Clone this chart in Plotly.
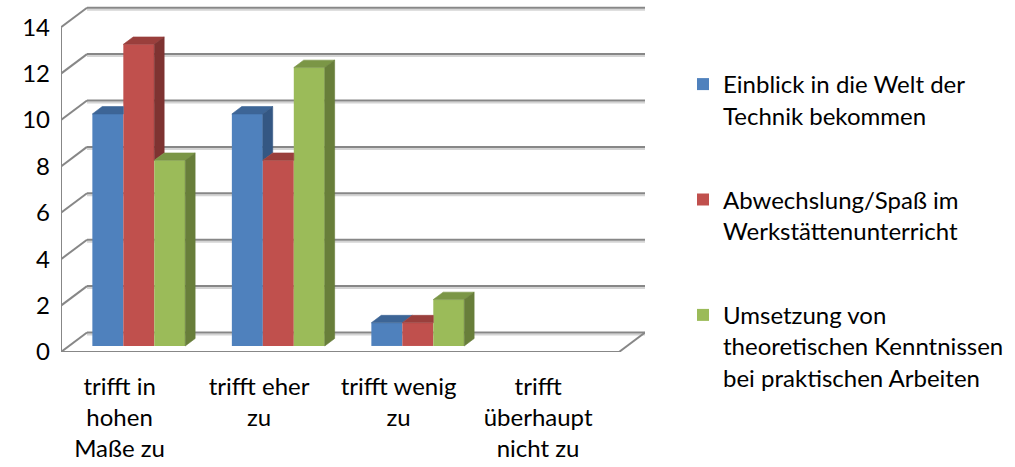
import plotly.graph_objects as go

# ---------------- data ----------------
categories = [
    "trifft in<br>hohen<br>Maße zu",
    "trifft eher<br>zu",
    "trifft wenig<br>zu",
    "trifft<br>überhaupt<br>nicht zu",
]
series_names = [
    "Einblick in die Welt der<br>Technik bekommen",
    "Abwechslung/Spaß im<br>Werkstättenunterricht",
    "Umsetzung von<br>theoretischen Kenntnissen<br>bei praktischen Arbeiten",
]
einblick = [10, 10, 1, 0]
abwechslung = [13, 8, 1, 0]
umsetzung = [8, 12, 2, 0]
y_ticks = [0, 2, 4, 6, 8, 10, 12, 14]

# ---------------- styles ----------------
front_colors = ["#4F81BD", "#C0504D", "#9BBB59"]
top_colors = ["#3D6596", "#9A3F3C", "#7B9646"]
side_colors = ["#345783", "#7E3331", "#687E3A"]
FONT = "Lato"
FS = 24

# ---------------- pseudo-3D geometry (axis units) ----------------
PXX = 139.5          # px per category
PXY = 23.2           # px per value unit
WDX = 26 / PXX       # wall depth, x
WDY = 19.5 / PXY     # wall depth, y
T0 = 0.31            # depth position of the bar fronts (0 = front, 1 = back)
BD = 0.38            # bar depth as a fraction of the wall depth
BDX, BDY = BD * WDX, BD * WDY
BW = 0.222           # bar width (category units)

L, R, T, B = 61, 370, 5, 115
W_PX, H_PX = 1015 - L - R, 467 - T - B
x0 = -0.5 - T0 * WDX
y0 = -T0 * WDY
x_range = [x0, x0 + W_PX / PXX]
y_range = [y0, y0 + H_PX / PXY]

series = [einblick, abwechslung, umsetzung]
n_cat = len(categories)
xs = list(range(n_cat))

fig = go.Figure()

# front faces (real bars)
for k, vals in enumerate(series):
    fig.add_trace(go.Bar(
        x=xs, y=vals, width=BW, offset=(k - 1.5) * BW,
        marker=dict(color=front_colors[k], line=dict(width=0)),
        name=series_names[k], legendgroup=f"s{k}",
    ))


def poly(px, py, color, k):
    fig.add_trace(go.Scatter(
        x=px + [px[0]], y=py + [py[0]], mode="lines", fill="toself",
        fillcolor=color, line=dict(color=color, width=0.6),
        hoverinfo="skip", showlegend=False, legendgroup=f"s{k}",
    ))


# top and side faces, with the parts hidden by the next bar removed
for k, vals in enumerate(series):
    for i, v in enumerate(vals):
        if v <= 0:
            continue
        xl = i + (k - 1.5) * BW
        xr = xl + BW
        vn = series[k + 1][i] if k + 1 < len(series) else None
        # top face
        if vn is not None and vn > v:
            poly([xl, xl + BDX, xr, xr], [v, v + BDY, v + BDY, v], top_colors[k], k)
        else:
            poly([xl, xl + BDX, xr + BDX, xr], [v, v + BDY, v + BDY, v], top_colors[k], k)
        # side face
        b = max(vn, 0) if vn is not None else 0
        if v > b:
            poly([xr, xr + BDX, xr + BDX, xr], [b, b + BDY, v + BDY, v], side_colors[k], k)

# ---------------- walls ----------------
shapes = []
GRID = "#878787"
SHADOW = "#D4D4D4"
fxl = -0.5 - T0 * WDX
fxr = n_cat - 0.5 - T0 * WDX
bxl = -0.5 + (1 - T0) * WDX
bxr = n_cat - 0.5 + (1 - T0) * WDX
fy = -T0 * WDY
by = (1 - T0) * WDY
sh = 2 / PXY


def seg(xa, ya, xb, yb, color=GRID, w=2):
    shapes.append(dict(type="line", xref="x", yref="y", x0=xa, y0=ya, x1=xb, y1=yb,
                       line=dict(color=color, width=w), layer="below"))


for v in y_ticks:
    seg(bxl, v + by - sh, bxr, v + by - sh, SHADOW, 2)
    seg(bxl, v + by, bxr, v + by)
    seg(fxl, v + fy, bxl, v + by)
# left front edge
seg(fxl, fy, fxl, y_ticks[-1] + fy)
# floor
seg(fxl, fy - sh, fxr, fy - sh, SHADOW, 2)
seg(fxl, fy, fxr, fy)
seg(fxr, fy, bxr, by)

fig.update_layout(
    width=1015, height=467,
    margin=dict(l=L, r=R, t=T, b=B, pad=0),
    paper_bgcolor="white", plot_bgcolor="white",
    barmode="overlay",
    shapes=shapes,
    font=dict(family=FONT, size=FS, color="black"),
    showlegend=True,
    legend=dict(
        xref="container", yref="container",
        x=683 / 1015, y=1 - 62 / 467, xanchor="left", yanchor="top",
        tracegroupgap=50, valign="top", bgcolor="rgba(0,0,0,0)",
        maxheight=460,
        font=dict(family=FONT, size=FS, color="black"),
    ),
    xaxis=dict(
        range=x_range, showgrid=False, zeroline=False, showline=False,
        tickmode="array",
        tickvals=[i - T0 * WDX - 0.08 for i in xs],
        ticktext=categories, ticks="", ticklabelstandoff=18,
        fixedrange=True,
    ),
    yaxis=dict(
        range=y_range, showgrid=False, zeroline=False, showline=False,
        tickmode="array",
        tickvals=[v + fy for v in y_ticks],
        ticktext=[str(v) for v in y_ticks], ticks="", ticklabelstandoff=10,
        fixedrange=True,
    ),
)

# remove the browser's default 8px page margin so the figure sits at (0, 0)
fig.write_html(
    "out.html",
    config={"displayModeBar": False},
    post_script="document.body.style.margin='0px';",
)
